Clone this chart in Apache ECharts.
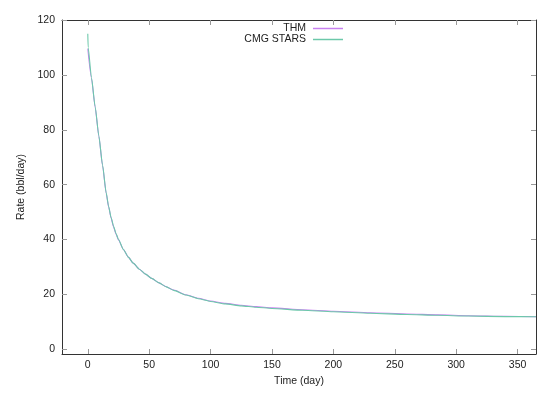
<!DOCTYPE html>
<html>
<head>
<meta charset="utf-8">
<script src="https://cdn.jsdelivr.net/npm/echarts@6/dist/echarts.min.js"></script>
<style>
html, body { margin: 0; padding: 0; background: #fff; }
#chart { width: 550px; height: 396px; }
</style>
</head>
<body>
<div id="chart"></div>
<script>
// tick labels
var xTicks = [0, 50, 100, 150, 200, 250, 300, 350];
var yTicks = [0, 20, 40, 60, 80, 100, 120];

// THM rate (bbl/day) vs time (day)
var timeThm = [0, 3, 6, 9, 12, 15, 17, 19, 21, 23, 25, 29, 33, 37, 42, 47, 52, 58, 64, 70, 80, 90, 100, 112, 125, 137, 150, 175, 200, 230, 260, 285, 310, 340, 365];
var rateThm = [109.5, 98.8, 88.2, 77.6, 67, 56.8, 51.8, 47.8, 44.6, 42, 39.9, 36.4, 33.6, 31.4, 29.2, 27.4, 25.85, 24.2, 22.8, 21.6, 19.9, 18.6, 17.6, 16.75, 16.05, 15.55, 15.1, 14.45, 13.9, 13.35, 12.9, 12.55, 12.25, 12.0, 11.9];

// CMG STARS rate (bbl/day) vs time (day)
var timeCmg = [0, 0.3, 3, 6, 9, 12, 15, 17, 19, 21, 23, 25, 29, 33, 37, 42, 47, 52, 58, 64, 70, 80, 90, 100, 112, 125, 137, 150, 175, 200, 230, 260, 285, 310, 340, 365];
var rateCmg = [115, 110, 99, 88.4, 77.8, 67.2, 57, 52, 48, 44.8, 42.2, 40, 36.4, 33.6, 31.4, 29.2, 27.4, 25.85, 24.2, 22.75, 21.5, 19.8, 18.45, 17.45, 16.55, 15.85, 15.35, 14.9, 14.25, 13.7, 13.15, 12.72, 12.4, 12.12, 11.93, 11.88];

var names = ['THM', 'CMG STARS'];
var colors = ['#c880f0', '#6cc8aa'];

function pairs(xs, ys) {
    return xs.map(function (x, i) { return [x, ys[i]]; });
}

var font = 'Liberation Sans, Arial, sans-serif';
var fs = 10.5;

function xAxisDef(pos, show) {
    return {
        type: 'value', position: pos, min: -21, max: 365,
        axisLine: { show: true, onZero: false, lineStyle: { color: '#333', width: 1 } },
        axisTick: { show: true, inside: true, length: 5, customValues: xTicks, lineStyle: { color: '#999' } },
        axisLabel: { show: show, customValues: xTicks, color: '#222', fontFamily: font, fontSize: fs, margin: 6 },
        splitLine: { show: false },
        name: show ? 'Time (day)' : '', nameLocation: 'middle', nameGap: 21,
        nameTextStyle: { color: '#222', fontFamily: font, fontSize: fs }
    };
}
function yAxisDef(pos, show) {
    return {
        type: 'value', position: pos, min: -1.7, max: 120,
        axisLine: { show: true, onZero: false, lineStyle: { color: '#333', width: 1 } },
        axisTick: { show: true, inside: true, length: 5, customValues: yTicks, lineStyle: { color: '#999' } },
        axisLabel: { show: show, customValues: yTicks, color: '#222', fontFamily: font, fontSize: fs, margin: 7 },
        splitLine: { show: false },
        name: show ? 'Rate (bbl/day)' : '', nameLocation: 'middle', nameGap: 35, nameRotate: 90,
        nameTextStyle: { color: '#222', fontFamily: font, fontSize: fs }
    };
}
function legendDef(name, top) {
    return {
        data: [name], right: 207, top: top, align: 'right',
        icon: 'rect', itemWidth: 30, itemHeight: 1.5, itemGap: 0,
        textStyle: { color: '#222', fontFamily: font, fontSize: fs, padding: [0, 2, 0, 0] },
        padding: 0
    };
}

var chart = echarts.init(document.getElementById('chart'), null, { renderer: 'canvas' });
chart.setOption({
    animation: false,
    backgroundColor: '#fff',
    grid: { left: 62, right: 14, top: 20, bottom: 42 },
    legend: [legendDef(names[0], 23), legendDef(names[1], 34)],
    xAxis: [xAxisDef('bottom', true), xAxisDef('top', false)],
    yAxis: [yAxisDef('left', true), yAxisDef('right', false)],
    series: [
        {
            name: names[0], type: 'line', data: pairs(timeThm, rateThm),
            showSymbol: false, smooth: 0.2, smoothMonotone: 'x',
            lineStyle: { color: colors[0], width: 1.1 }, itemStyle: { color: colors[0] }
        },
        {
            name: names[1], type: 'line', data: pairs(timeCmg, rateCmg),
            showSymbol: false, smooth: 0.2, smoothMonotone: 'x',
            lineStyle: { color: colors[1], width: 1.1 }, itemStyle: { color: colors[1] }
        }
    ]
});
</script>
</body>
</html>
